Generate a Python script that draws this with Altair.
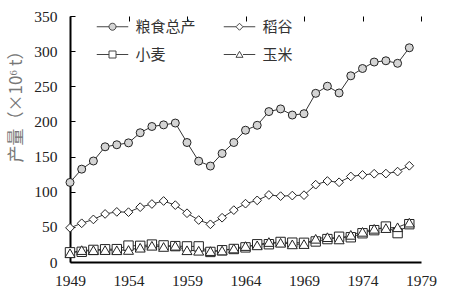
import altair as alt
import pandas as pd

years = list(range(1949, 1979))
series_names = ["粮食总产", "稻谷", "小麦", "玉米"]
grain = [113.2, 132.1, 143.7, 163.9, 166.8, 169.5, 183.9, 192.8, 195.1, 197.7,
         170.0, 143.5, 136.5, 154.4, 170.0, 187.5, 194.5, 214.0, 217.8, 209.1,
         211.0, 240.0, 250.1, 240.5, 264.9, 275.3, 284.5, 286.3, 282.7, 304.8]
rice = [48.6, 55.1, 60.6, 68.4, 71.3, 70.9, 78.0, 82.5, 86.8, 80.9,
        69.4, 59.7, 53.6, 63.0, 73.8, 83.0, 87.7, 95.4, 93.7, 94.5,
        95.1, 110.0, 115.2, 113.4, 121.7, 123.9, 125.6, 125.8, 128.6, 136.9]
wheat = [13.8, 14.5, 17.2, 18.1, 18.3, 23.3, 23.0, 24.8, 23.6, 22.6,
         22.2, 22.2, 14.3, 16.7, 18.5, 20.8, 25.2, 25.3, 28.5, 27.5,
         27.3, 29.2, 32.6, 35.9, 35.2, 40.9, 45.3, 50.4, 41.1, 53.8]
corn = [12.4, 16.9, 16.8, 16.9, 16.7, 17.1, 20.3, 23.1, 21.4, 23.1,
        16.7, 16.0, 15.5, 16.3, 19.2, 22.7, 23.7, 28.4, 27.4, 25.1,
        25.5, 33.0, 35.3, 32.1, 38.6, 42.9, 47.2, 48.2, 49.4, 56.0]
x_ticks = [1949, 1954, 1959, 1964, 1969, 1974, 1979]
y_ticks = [0, 50, 100, 150, 200, 250, 300, 350]

rows = []
for name, vals in zip(series_names, [grain, rice, wheat, corn]):
    for yr, v in zip(years, vals):
        rows.append({"year": yr, "series": name, "value": v})
df = pd.DataFrame(rows)

fills = ["#d4d4d4", "white", "white", "white"]
shapes = ["circle", "diamond", "square", "triangle-up"]
sizes = [64, 100, 72, 76]
legend_shapes = [
    "M-4.5,0H-1M1,0H4.5M-1,0A1,1 0 1,0 1,0A1,1 0 1,0 -1,0Z",
    "M-4.5,0H-1M1,0H4.5M-1,0L0,-1L1,0L0,1Z",
    "M-4.5,0H-1M1,0H4.5M-1,-1H1V1H-1Z",
    "M-4.5,0H-1M1,0H4.5M-1,0.8L0,-0.9L1,0.8Z",
]

x_enc = alt.X("year:Q", scale=alt.Scale(domain=[1949, 1979], nice=False, zero=False),
              axis=alt.Axis(values=x_ticks, format="d", title=None, ticks=False,
                            labelFont="Liberation Serif", labelFontSize=15.5,
                            labelColor="#222", labelPadding=11, labelFlush=False,
                            labelOverlap=False,
                            domainColor="black", domainWidth=2,
                            grid=True, gridColor="black", gridWidth=1,
                            gridDash=[5, 2000]))
y_enc = alt.Y("value:Q", scale=alt.Scale(domain=[0, 350], nice=False),
              axis=alt.Axis(values=y_ticks, title="产量（×10⁶ t）", ticks=False,
                            labelFont="Liberation Serif", labelFontSize=15.5,
                            labelColor="#222", labelPadding=13, labelOverlap=False,
                            labelFlush=False,
                            domainColor="black", domainWidth=2,
                            grid=True, gridColor="black", gridWidth=1,
                            gridDash=[5, 2000],
                            titleFont="Noto Sans CJK SC", titleFontSize=17,
                            titleFontWeight="normal", titleColor="#777",
                            titleX=-54, titleY=86, titleAlign="center",
                            titleBaseline="middle"))

base = alt.Chart(df)

lines = base.mark_line(color="#333", strokeWidth=1).encode(
    x=x_enc, y=y_enc, detail="series:N")

points = base.mark_point(filled=True, stroke="#222", strokeWidth=1, opacity=1).encode(
    x=x_enc, y=y_enc,
    fill=alt.Fill("series:N", scale=alt.Scale(domain=series_names, range=fills), legend=None),
    shape=alt.Shape("series:N", scale=alt.Scale(domain=series_names, range=shapes), legend=None),
    size=alt.Size("series:N", scale=alt.Scale(domain=series_names, range=sizes), legend=None),
)

legend_layer = base.mark_point(filled=True, opacity=0, size=49).encode(
    x=x_enc, y=y_enc,
    fill=alt.Fill("series:N", scale=alt.Scale(domain=series_names, range=fills), legend=None),
    shape=alt.Shape("series:N", scale=alt.Scale(domain=series_names, range=legend_shapes),
                    legend=alt.Legend(orient="none", legendX=35, legendY=3, columns=2,
                                      direction="horizontal",
                                      columnPadding=25, rowPadding=12, labelOffset=15.5,
                                      labelFont="Noto Sans CJK SC", labelFontSize=15,
                                      labelColor="#333", title=None, padding=0,
                                      symbolStrokeWidth=1, symbolOpacity=1,
                                      symbolStrokeColor="#444", symbolSize=49,
                                      symbolFillColor="white")),
)

chart = alt.layer(lines, points, legend_layer).resolve_scale(
    shape="independent", fill="independent", size="independent"
).properties(
    width=351, height=246,
    padding={"left": 70, "top": 16, "right": 32, "bottom": 31},
    autosize=alt.AutoSizeParams(type="none"),
).configure_view(stroke=None)

chart.save("out.html", embed_options={"renderer": "svg", "actions": False})
